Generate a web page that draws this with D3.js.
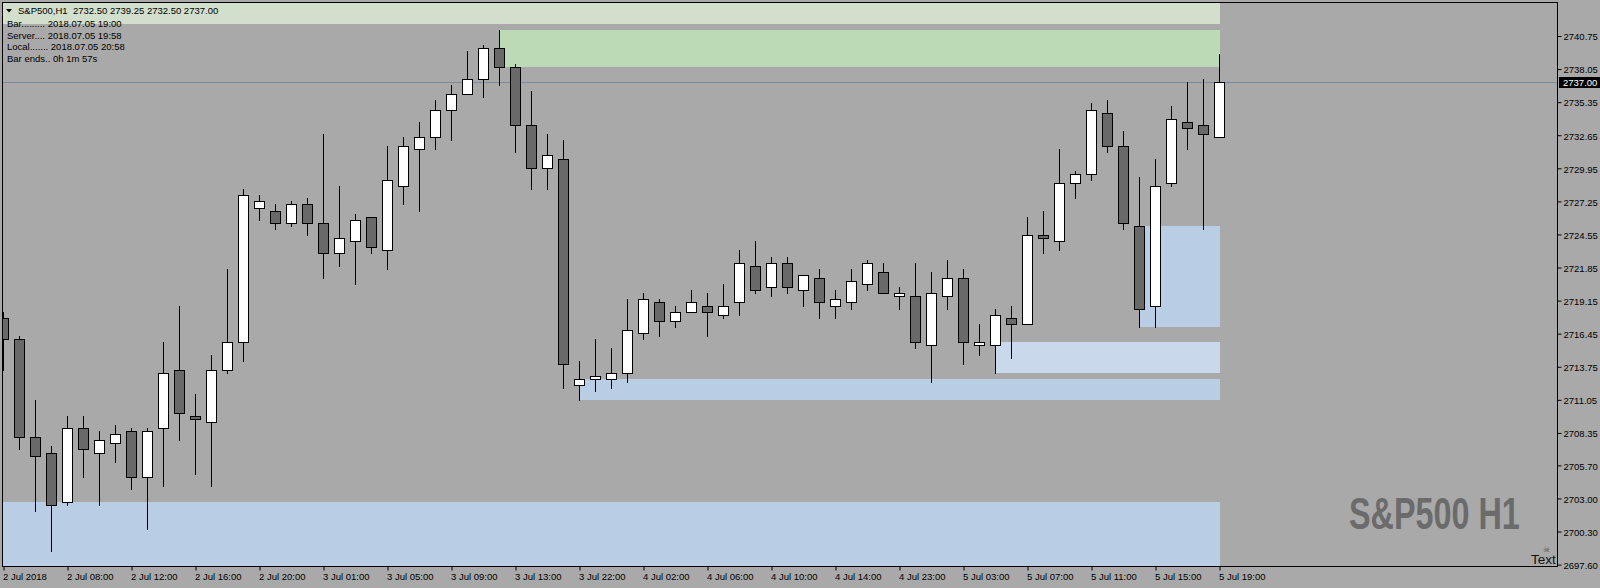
<!DOCTYPE html>
<html><head><meta charset="utf-8">
<script src="https://cdn.jsdelivr.net/npm/d3@7"></script>
<style>
html,body{margin:0;padding:0;background:#a9a9a9;overflow:hidden}
svg{display:block}
text{font-family:"Liberation Sans",Arial,sans-serif}
</style></head><body>
<svg id="c" width="1600" height="588"></svg>
<script>
// ---- data ----
const times = [
"2018.07.02 04:00","2018.07.02 05:00","2018.07.02 06:00","2018.07.02 07:00","2018.07.02 08:00","2018.07.02 09:00","2018.07.02 10:00","2018.07.02 11:00",
"2018.07.02 12:00","2018.07.02 13:00","2018.07.02 14:00","2018.07.02 15:00","2018.07.02 16:00","2018.07.02 17:00","2018.07.02 18:00","2018.07.02 19:00",
"2018.07.02 20:00","2018.07.02 21:00","2018.07.02 22:00","2018.07.02 23:00","2018.07.03 01:00","2018.07.03 02:00","2018.07.03 03:00","2018.07.03 04:00",
"2018.07.03 05:00","2018.07.03 06:00","2018.07.03 07:00","2018.07.03 08:00","2018.07.03 09:00","2018.07.03 10:00","2018.07.03 11:00","2018.07.03 12:00",
"2018.07.03 13:00","2018.07.03 14:00","2018.07.03 15:00","2018.07.03 16:00","2018.07.03 22:00","2018.07.03 23:00","2018.07.04 00:00","2018.07.04 01:00",
"2018.07.04 02:00","2018.07.04 03:00","2018.07.04 04:00","2018.07.04 05:00","2018.07.04 06:00","2018.07.04 07:00","2018.07.04 08:00","2018.07.04 09:00",
"2018.07.04 10:00","2018.07.04 11:00","2018.07.04 12:00","2018.07.04 13:00","2018.07.04 14:00","2018.07.04 15:00","2018.07.04 16:00","2018.07.04 17:00",
"2018.07.04 23:00","2018.07.05 00:00","2018.07.05 01:00","2018.07.05 02:00","2018.07.05 03:00","2018.07.05 04:00","2018.07.05 05:00","2018.07.05 06:00",
"2018.07.05 07:00","2018.07.05 08:00","2018.07.05 09:00","2018.07.05 10:00","2018.07.05 11:00","2018.07.05 12:00","2018.07.05 13:00","2018.07.05 14:00",
"2018.07.05 15:00","2018.07.05 16:00","2018.07.05 17:00","2018.07.05 18:00","2018.07.05 19:00"];

const opens = [2717.75,2716.00,2708.00,2706.75,2702.75,2708.75,2706.75,2707.50,2708.50,2704.75,
2708.75,2713.50,2709.75,2709.25,2713.50,2715.75,2726.75,2726.50,2725.50,2727.00,
2725.50,2723.00,2724.00,2726.00,2723.25,2728.50,2731.50,2732.50,2734.75,2736.00,
2737.25,2739.75,2738.25,2733.50,2730.00,2730.75,2712.25,2712.75,2712.75,2713.25,
2716.50,2719.00,2717.50,2718.25,2718.75,2718.00,2719.00,2722.00,2720.25,2722.25,
2720.00,2721.00,2718.75,2719.00,2720.50,2721.50,2719.50,2719.50,2715.50,2719.50,
2721.00,2715.50,2715.50,2717.75,2717.25,2724.50,2724.00,2728.75,2729.50,2734.50,
2731.75,2725.25,2718.75,2728.75,2733.75,2733.50,2732.50];
const highs = [2718.25,2716.25,2711.00,2707.25,2709.75,2709.75,2708.50,2709.00,2708.75,2708.75,
2715.75,2718.75,2711.50,2714.75,2721.75,2728.25,2727.75,2727.00,2727.25,2727.50,
2732.75,2728.50,2726.25,2726.00,2731.75,2732.50,2733.75,2735.50,2736.75,2739.50,
2740.00,2741.25,2738.50,2736.25,2732.75,2732.25,2714.25,2716.00,2715.25,2719.25,
2719.75,2719.25,2718.75,2720.00,2719.75,2720.50,2723.25,2724.00,2722.75,2722.75,
2721.25,2721.75,2720.00,2721.75,2722.50,2722.25,2720.25,2722.25,2721.50,2722.50,
2721.75,2717.25,2718.50,2718.75,2726.00,2726.50,2731.50,2729.75,2735.25,2735.50,
2733.00,2729.25,2730.75,2735.00,2737.00,2737.25,2739.25];
const lows = [2713.50,2707.00,2702.00,2698.75,2702.50,2704.75,2702.50,2706.00,2703.75,2700.50,
2704.00,2707.75,2705.00,2704.00,2713.25,2714.25,2725.75,2725.00,2725.25,2724.50,
2721.00,2722.00,2720.50,2723.00,2721.75,2727.00,2726.50,2731.50,2732.25,2736.00,
2735.75,2736.75,2731.25,2728.25,2728.25,2712.00,2711.00,2711.75,2712.00,2712.50,
2716.00,2716.25,2717.00,2718.25,2716.25,2717.75,2718.00,2719.75,2719.50,2719.75,
2718.75,2717.75,2717.75,2718.50,2720.00,2719.75,2718.50,2715.25,2712.50,2718.50,
2714.00,2714.75,2713.25,2714.50,2717.25,2723.00,2723.25,2727.50,2729.00,2731.25,
2725.00,2717.00,2717.00,2728.50,2731.50,2725.00,2732.50];
const closes = [2716.00,2708.00,2706.50,2702.50,2708.75,2707.00,2707.75,2708.25,2704.75,2708.50,
2713.25,2710.00,2709.50,2713.50,2715.75,2727.75,2727.25,2725.50,2727.00,2725.50,
2723.00,2724.25,2725.75,2723.50,2729.00,2731.75,2732.50,2734.75,2736.00,2737.25,
2739.75,2738.25,2733.50,2730.00,2731.00,2714.00,2712.75,2713.00,2713.25,2716.75,
2719.25,2717.50,2718.25,2719.00,2718.25,2718.75,2722.25,2720.00,2722.25,2720.25,
2721.25,2719.00,2719.25,2720.75,2722.25,2719.75,2719.75,2715.75,2719.75,2721.00,
2715.75,2715.75,2718.00,2717.25,2724.50,2724.25,2728.75,2729.50,2734.75,2731.75,
2725.50,2718.50,2728.50,2734.00,2733.25,2732.75,2737.00];

const priceTicks = [2740.75,2738.05,2735.35,2732.65,2729.95,2727.25,2724.55,2721.85,2719.15,
2716.45,2713.75,2711.05,2708.35,2705.70,2703.00,2700.30,2697.60];
const timeTickIndex = [0,4,8,12,16,20,24,28,32,36,40,44,48,52,56,60,64,68,72,76];
const timeTickLabels = ["2 Jul 2018","2 Jul 08:00","2 Jul 12:00","2 Jul 16:00","2 Jul 20:00",
"3 Jul 01:00","3 Jul 05:00","3 Jul 09:00","3 Jul 13:00","3 Jul 22:00","4 Jul 02:00","4 Jul 06:00",
"4 Jul 10:00","4 Jul 14:00","4 Jul 23:00","5 Jul 03:00","5 Jul 07:00","5 Jul 11:00","5 Jul 15:00","5 Jul 19:00"];

// zones (from bar index to last bar), -1 = starts before the visible range
const zoneFrom = [-1, 31, -1, 36, 62, 71];
const zoneHigh = [2746.00, 2741.25, 2702.75, 2712.75, 2715.75, 2725.25];
const zoneLow  = [2741.75, 2738.25, 2690.00, 2711.00, 2713.25, 2717.00];
const lastPrice = 2737.00;

const headerLines = ["Bar......... 2018.07.05 19:00","Server.... 2018.07.05 19:58","Local....... 2018.07.05 20:58","Bar ends.. 0h 1m 57s"];

// ---- styles ----
const zoneColors = ["#d2dfcc","#bcdab5","#b9cde5","#b9cde5","#c9d9eb","#b9cde5"];
const L = 2.5, R = 1557.5, T = 2.5, B = 566.5;

const svg = d3.select("#c");
const x = d3.scaleLinear().domain([0, 76]).range([3.5, 1219.5]);
const y = d3.scaleLinear().domain([2697.60, 2740.75]).range([564.6, 36]);

svg.append("rect").attr("width",1600).attr("height",588).attr("fill","#a9a9a9");
svg.append("clipPath").attr("id","pa").append("rect")
  .attr("x",3).attr("y",3).attr("width",1554).attr("height",563);
const plot = svg.append("g").attr("clip-path","url(#pa)");

// zones
plot.selectAll("rect.zone").data(zoneFrom).join("rect").attr("class","zone")
  .attr("x",(d)=> Math.round(x(d)))
  .attr("width",(d)=> Math.round(x(76)) - Math.round(x(d)))
  .attr("y",(d,i)=> Math.round(y(zoneHigh[i])))
  .attr("height",(d,i)=> Math.round(y(zoneLow[i])) - Math.round(y(zoneHigh[i])))
  .attr("fill",(d,i)=> zoneColors[i]);

// last price line
const py = Math.round(y(lastPrice)) + 0.5;
plot.append("line").attr("x1",0).attr("x2",1600).attr("y1",py).attr("y2",py)
  .attr("stroke","#7a8a9a").attr("stroke-width",1);

// candles
const idx = d3.range(opens.length);
const cg = plot.append("g");
cg.selectAll("line.wick").data(idx).join("line").attr("class","wick")
  .attr("x1",i=>x(i)).attr("x2",i=>x(i))
  .attr("y1",i=>Math.round(y(highs[i])))
  .attr("y2",i=>Math.round(y(lows[i]))+1)
  .attr("stroke","#000").attr("stroke-width",1);
cg.selectAll("rect.body").data(idx).join("rect").attr("class","body")
  .attr("x",i=>x(i)-5).attr("width",10)
  .attr("y",i=>Math.round(y(Math.max(opens[i],closes[i])))+0.5)
  .attr("height",i=>Math.max(1, Math.round(y(Math.min(opens[i],closes[i]))) - Math.round(y(Math.max(opens[i],closes[i])))))
  .attr("fill",i=> closes[i] >= opens[i] ? "#ffffff" : "#696969")
  .attr("stroke","#000").attr("stroke-width",1);

// header band text
svg.append("path").attr("d","M6,9 L12,9 L9,12.5 Z").attr("fill","#000");
svg.append("text").attr("x",18).attr("y",13.5).attr("font-size",9.5).attr("fill","#000")
  .attr("xml:space","preserve")
  .text("S&P500,H1  " + [opens[76],highs[76],lows[76],closes[76]].map(d3.format(".2f")).join(" "));
svg.selectAll("text.hdr").data(headerLines).join("text").attr("class","hdr")
  .attr("x",7).attr("y",(d,i)=>27 + i*11.7).attr("font-size",9.5).attr("fill","#000").text(d=>d);

// watermark (condensed by horizontal scaling)
svg.append("g").attr("transform","translate(1349,529) scale(0.735,1)")
  .append("text").attr("x",0).attr("y",0).attr("font-size",44).attr("font-weight","bold")
  .attr("fill","#6b6b6b").text("S&P500 H1");
svg.append("text").attr("x",1546).attr("y",552).attr("font-size",8).attr("text-anchor","middle")
  .attr("fill","#5a5a5a").attr("font-family","DejaVu Sans").text("\u2620");
plot.append("text").attr("x",1531).attr("y",564).attr("font-size",13.5).attr("fill","#111").text("Text");

// frame
svg.append("rect").attr("x",L).attr("y",T).attr("width",R-L).attr("height",B-T)
  .attr("fill","none").attr("stroke","#000").attr("stroke-width",1);

// right axis
const ya = svg.append("g").attr("transform",`translate(${R},0)`)
  .call(d3.axisRight(y).tickValues(priceTicks).tickFormat(d3.format(".2f")).tickSize(4).tickPadding(2));
ya.select(".domain").remove();
ya.selectAll("text").attr("font-size",9.5).attr("font-family","Liberation Sans, Arial, sans-serif")
  .attr("fill","#000").attr("dy","0.4em");
ya.selectAll("line").attr("stroke","#000");

// bottom axis
const xa = svg.append("g").attr("transform",`translate(0,${B})`)
  .call(d3.axisBottom(x).tickValues(timeTickIndex).tickFormat((d,i)=>timeTickLabels[i]).tickSize(4).tickPadding(3));
xa.select(".domain").remove();
xa.selectAll("text").attr("font-size",9.5).attr("font-family","Liberation Sans, Arial, sans-serif")
  .attr("fill","#000").attr("text-anchor","start").attr("x",-1);
xa.selectAll("line").attr("stroke","#000");

// last price label
svg.append("rect").attr("x",1559).attr("y",77).attr("width",41).attr("height",11).attr("fill","#000");
svg.append("text").attr("x",1563).attr("y",86).attr("font-size",9.5).attr("fill","#fff")
  .text(d3.format(".2f")(lastPrice));
</script>
</body></html>
